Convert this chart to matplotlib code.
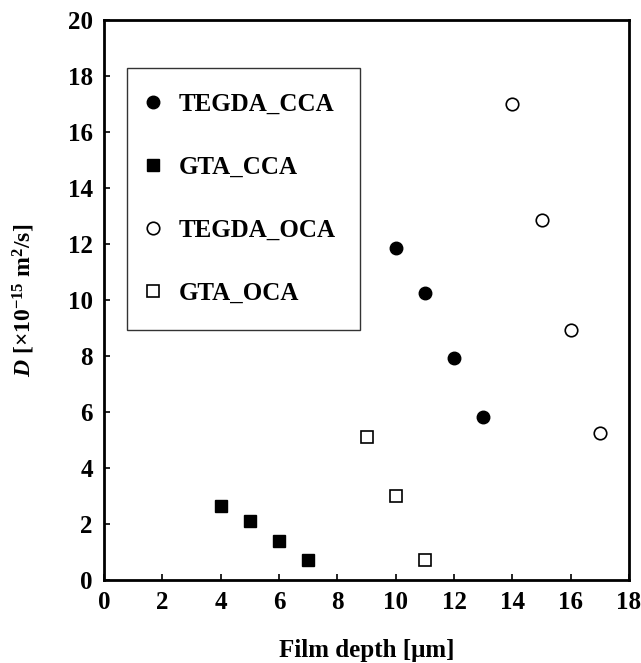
import matplotlib
matplotlib.use("Agg")
import matplotlib.pyplot as plt

plt.rcParams['font.family'] = ['Liberation Serif', 'DejaVu Serif']
plt.rcParams['font.weight'] = 'bold'
plt.rcParams['mathtext.fontset'] = 'custom'
plt.rcParams['mathtext.rm'] = 'Liberation Serif:bold'
plt.rcParams['mathtext.it'] = 'Liberation Serif:italic:bold'
plt.rcParams['mathtext.bf'] = 'Liberation Serif:bold'

# Data
tegda_cca_x = [10, 11, 12, 13]
tegda_cca_y = [11.85, 10.24, 7.93, 5.82]
gta_cca_x = [4, 5, 6, 7]
gta_cca_y = [2.63, 2.09, 1.41, 0.71]
tegda_oca_x = [14, 15, 16, 17]
tegda_oca_y = [17.01, 12.85, 8.94, 5.26]
gta_oca_x = [9, 10, 11]
gta_oca_y = [5.11, 3.0, 0.71]

xticks = list(range(0, 19, 2))
yticks = list(range(0, 21, 2))

W, H = 641, 663
fig = plt.figure(figsize=(W / 100, H / 100), dpi=100)
ax = fig.add_axes([104 / W, 1 - 580 / H, (629 - 104) / W, (580 - 20) / H])

ms = 9
ax.plot(tegda_cca_x, tegda_cca_y, 'o', color='black', ms=ms, label='TEGDA_CCA')
ax.plot(gta_cca_x, gta_cca_y, 's', color='black', ms=ms, label='GTA_CCA')
ax.plot(tegda_oca_x, tegda_oca_y, 'o', mfc='white', mec='black', mew=1.2, ms=ms, label='TEGDA_OCA')
ax.plot(gta_oca_x, gta_oca_y, 's', mfc='white', mec='black', mew=1.2, ms=ms, label='GTA_OCA')

ax.set_xlim(0, 18)
ax.set_ylim(0, 20)
ax.set_xticks(xticks)
ax.set_yticks(yticks)
ax.tick_params(direction='in', length=4, width=1.2, labelsize=18, pad=8)
for lab in ax.get_xticklabels() + ax.get_yticklabels():
    lab.set_fontweight('bold')
for s in ax.spines.values():
    s.set_linewidth(2)

fig.text(367 / W, 1 - 650 / H, 'Film depth [μm]', ha='center', va='center',
         fontsize=18, fontweight='bold')
fig.text(24 / W, 1 - 300 / H, r'$\mathit{D}$ [×10$^{-15}$ m$^{2}$/s]', ha='center', va='center',
         rotation=90, fontsize=17, fontweight='bold')

leg = ax.legend(loc='upper left', bbox_to_anchor=((127 - 104) / (629 - 104), 1 - (68 - 20) / (580 - 20)),
                frameon=True, fancybox=False, edgecolor='black',
                labelspacing=1.6, handlelength=0.1, handletextpad=0.95,
                borderpad=1.0, borderaxespad=0, prop={'weight': 'bold', 'size': 18})
leg.get_frame().set_linewidth(1.0)

fig.savefig('out.png', dpi=100)
